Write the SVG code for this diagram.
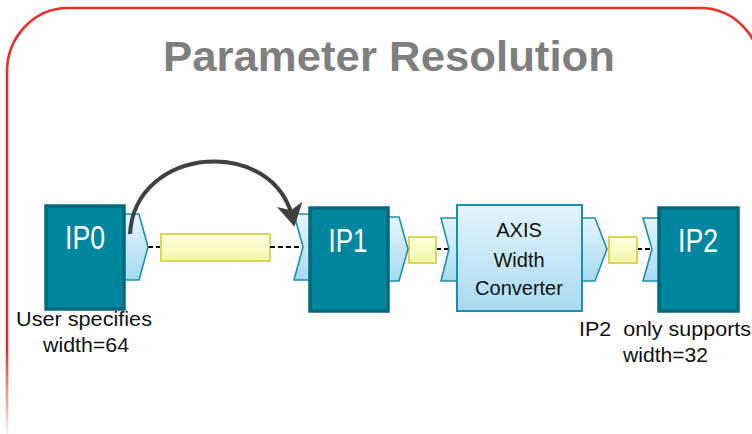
<svg xmlns="http://www.w3.org/2000/svg" width="752" height="434" viewBox="0 0 752 434">
<defs>
<linearGradient id="portGrad" x1="0" y1="0" x2="0" y2="1">
<stop offset="0" stop-color="#e6f5fc"/>
<stop offset="1" stop-color="#a6daf1"/>
</linearGradient>
<linearGradient id="boxGrad" x1="0" y1="0" x2="0" y2="1">
<stop offset="0" stop-color="#e4f4fc"/>
<stop offset="1" stop-color="#a8daf1"/>
</linearGradient>
<linearGradient id="yelGrad" x1="0" y1="0" x2="0" y2="1">
<stop offset="0" stop-color="#ffffe2"/>
<stop offset="1" stop-color="#f4f4a6"/>
</linearGradient>
<linearGradient id="fadeGrad" gradientUnits="userSpaceOnUse" x1="0" y1="350" x2="0" y2="434">
<stop offset="0" stop-color="#e3342a" stop-opacity="1"/>
<stop offset="1" stop-color="#e3342a" stop-opacity="0.08"/>
</linearGradient>
<marker id="arrowHead" markerUnits="userSpaceOnUse" markerWidth="30" markerHeight="30" viewBox="0 0 30 30" refX="16" refY="15" orient="auto">
<path d="M0,2 L23,15 L0,28 L6,15 Z" fill="#404040"/>
</marker>
<style>
.ipbox{fill:#00869f;stroke:#006a7c;stroke-width:3.5}
.port{fill:url(#portGrad);stroke:#1b8fae;stroke-width:1.6}
.conv{fill:url(#boxGrad);stroke:#1b8fae;stroke-width:2}
.yel{fill:url(#yelGrad);stroke:#d8d856;stroke-width:2}
.dash{stroke:#000;stroke-width:2;stroke-dasharray:5,3;fill:none}
.iplbl{font-family:"Liberation Sans",Arial,sans-serif;font-size:34px;fill:#ffffff;text-anchor:middle}
.convlbl{font-family:"Liberation Sans",Arial,sans-serif;font-size:20px;fill:#111;text-anchor:middle}
.note{font-family:"Liberation Sans",Arial,sans-serif;font-size:21px;fill:#111}
.title{font-family:"Liberation Sans",Arial,sans-serif;font-size:43px;font-weight:bold;fill:#7f7f7f;text-anchor:middle}
</style>
</defs>
<rect width="752" height="434" fill="#ffffff"/>
<g id="frame">
<path d="M7,72 A61,64 0 0 1 68,8 L700,8 A60,60 0 0 1 760,68" fill="none" stroke="#e3342a" stroke-width="2.6"/>
<line x1="7" y1="71" x2="7" y2="434" stroke="url(#fadeGrad)" stroke-width="2.6"/>
</g>
<text class="title" x="389" y="71" textLength="452" lengthAdjust="spacingAndGlyphs">Parameter Resolution</text>
<g id="connectors">
<line class="dash" x1="148" y1="247" x2="161" y2="247"/>
<rect class="yel" x="161" y="234" width="109" height="27"/>
<line class="dash" x1="270" y1="247" x2="303" y2="247"/>
<line class="dash" x1="436" y1="249" x2="449" y2="249"/>
<rect class="yel" x="409" y="237" width="27" height="26"/>
<line class="dash" x1="637" y1="249" x2="652" y2="249"/>
<rect class="yel" x="609" y="237" width="28" height="26"/>
</g>
<g id="IP0">
<polygon class="port" points="124,214 139,214 148,247 139,280 124,280"/>
<rect class="ipbox" x="46" y="206" width="78" height="103"/>
<text class="iplbl" x="85" y="249" textLength="40" lengthAdjust="spacingAndGlyphs">IP0</text>
</g>
<g id="IP1">
<polygon class="port" points="294,214 310,214 310,280 294,280 303,247"/>
<polygon class="port" points="388,217 399,217 408,249 399,281 388,281"/>
<rect class="ipbox" x="310" y="208" width="78" height="103"/>
<text class="iplbl" x="348" y="252" textLength="39" lengthAdjust="spacingAndGlyphs">IP1</text>
</g>
<g id="AXIS">
<polygon class="port" points="441,218 457,218 457,281 441,281 449,249"/>
<polygon class="port" points="582,218 595,218 607,249 595,281 582,281"/>
<rect class="conv" x="457" y="205" width="125" height="106"/>
<text class="convlbl" x="519" y="237">AXIS</text>
<text class="convlbl" x="519" y="267">Width</text>
<text class="convlbl" x="519" y="295">Converter</text>
</g>
<g id="IP2">
<polygon class="port" points="643,218 659,218 659,281 643,281 652,249"/>
<rect class="ipbox" x="659" y="208" width="79" height="103"/>
<text class="iplbl" x="698" y="252" textLength="40" lengthAdjust="spacingAndGlyphs">IP2</text>
</g>
<g id="arrow">
<path d="M130,234 C135,145 275,135 293,220" fill="none" stroke="#404040" stroke-width="4" marker-end="url(#arrowHead)"/>
</g>
<g id="labels">
<text class="note" x="16" y="326" textLength="136" lengthAdjust="spacingAndGlyphs">User specifies</text>
<text class="note" x="43" y="352" textLength="86" lengthAdjust="spacingAndGlyphs">width=64</text>
<text class="note" x="579" y="336" textLength="172" lengthAdjust="spacingAndGlyphs" xml:space="preserve">IP2  only supports</text>
<text class="note" x="623" y="362" textLength="85" lengthAdjust="spacingAndGlyphs">width=32</text>
</g>
</svg>
